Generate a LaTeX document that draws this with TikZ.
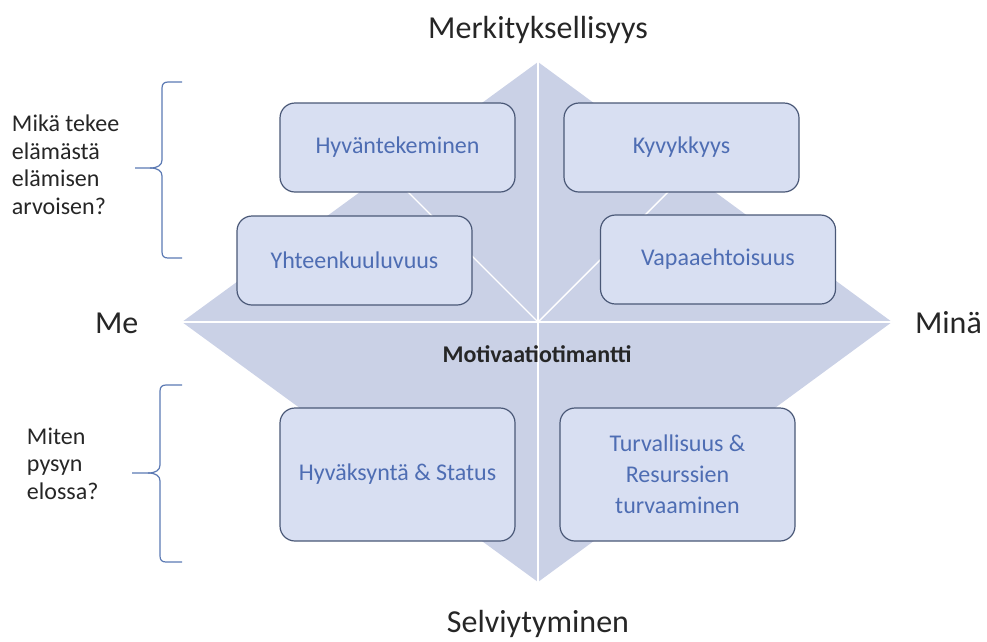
\documentclass[tikz,border=0pt]{standalone}
\usepackage{fontspec}
\setmainfont{Carlito}
\definecolor{dia}{HTML}{CAD1E6}
\definecolor{boxfill}{HTML}{D8DFF2}
\definecolor{boxline}{HTML}{4A5877}
\definecolor{boxtext}{HTML}{4E6DB3}
\definecolor{bracecol}{HTML}{5B79B3}
\definecolor{txt}{HTML}{262626}
\begin{document}
\begin{tikzpicture}[x=1pt,y=-1pt,
  every node/.style={inner sep=0pt, outer sep=0pt},
  qbox/.style={draw=boxline, line width=1.2pt, fill=boxfill, rounded corners=15pt,
    text=boxtext, font=\fontsize{24}{31}\selectfont, align=center, minimum width=235pt},
  sbox/.style={qbox, minimum height=89pt},
  tbox/.style={qbox, minimum height=133pt},
  title/.style={text=txt, font=\fontsize{32}{38}\selectfont},
  side/.style={text=txt, font=\fontsize{24}{27.5}\selectfont, align=left},
  bracestyle/.style={draw=bracecol, line width=1.2pt},
  sepline/.style={white, line width=2pt},
  diagline/.style={white, line width=1.4pt}
]
\useasboundingbox (0,0) rectangle (987,641);
\coordinate (T) at (538,62);
\coordinate (R) at (892,322);
\coordinate (B) at (538,582);
\coordinate (L) at (182,322);
\coordinate (C) at (538,322);
\coordinate (DL) at (387.7,171.7);
\coordinate (DR) at (688.3,171.7);
\fill[dia] (T) -- (R) -- (B) -- (L) -- cycle;
\draw[sepline] (T) -- (B);
\draw[sepline] (L) -- (R);
\draw[diagline] (C) -- (DL);
\draw[diagline] (C) -- (DR);

\node[sbox] (hyvan) at (397.5,147.5) {Hyväntekeminen};
\node[sbox] (kyvyk) at (681.5,147.5) {Kyvykkyys};
\node[sbox] (yhteen) at (354.5,260.5) {Yhteenkuuluvuus};
\node[sbox] (vapaa) at (718,259.5) {Vapaaehtoisuus};
\node[tbox] (hyvaks) at (397.5,474.5) {Hyväksyntä \& Status};
\node[tbox] (turva) at (677.5,474.5) {Turvallisuus \&\\Resurssien\\turvaaminen};

\node[title, anchor=base] (merk) at (538,38) {Merkityksellisyys};
\node[title, anchor=base] (selv) at (538,632) {Selviytyminen};
\node[title, anchor=base west] (me) at (95,333) {Me};
\node[title, anchor=base west] (mina) at (915,333) {Minä};
\node[text=txt, font=\bfseries\fontsize{24}{28}\selectfont, anchor=base] (moti) at (537,362) {Motivaatiotimantti};

\node[side, anchor=base west] (q1) at (12,214) {Mikä tekee\\elämästä\\elämisen\\arvoisen?};
\node[side, anchor=base west] (q2) at (27,499) {Miten\\pysyn\\elossa?};

\draw[bracestyle] (182,82) -- (168,82) .. controls (164,82) and (162,84) .. (162,88)
  -- (162,160) .. controls (162,165) and (158,168) .. (150,168) -- (135,168);
\draw[bracestyle] (150,168) .. controls (158,168) and (162,171) .. (162,176)
  -- (162,252) .. controls (162,256) and (164,258) .. (168,258) -- (182,258);

\draw[bracestyle] (182,385) -- (166,385) .. controls (162,385) and (160,387) .. (160,391)
  -- (160,465) .. controls (160,470) and (156,473) .. (148,473) -- (132,473);
\draw[bracestyle] (148,473) .. controls (156,473) and (160,476) .. (160,481)
  -- (160,556) .. controls (160,560) and (162,562) .. (166,562) -- (182,562);
\end{tikzpicture}
\end{document}
